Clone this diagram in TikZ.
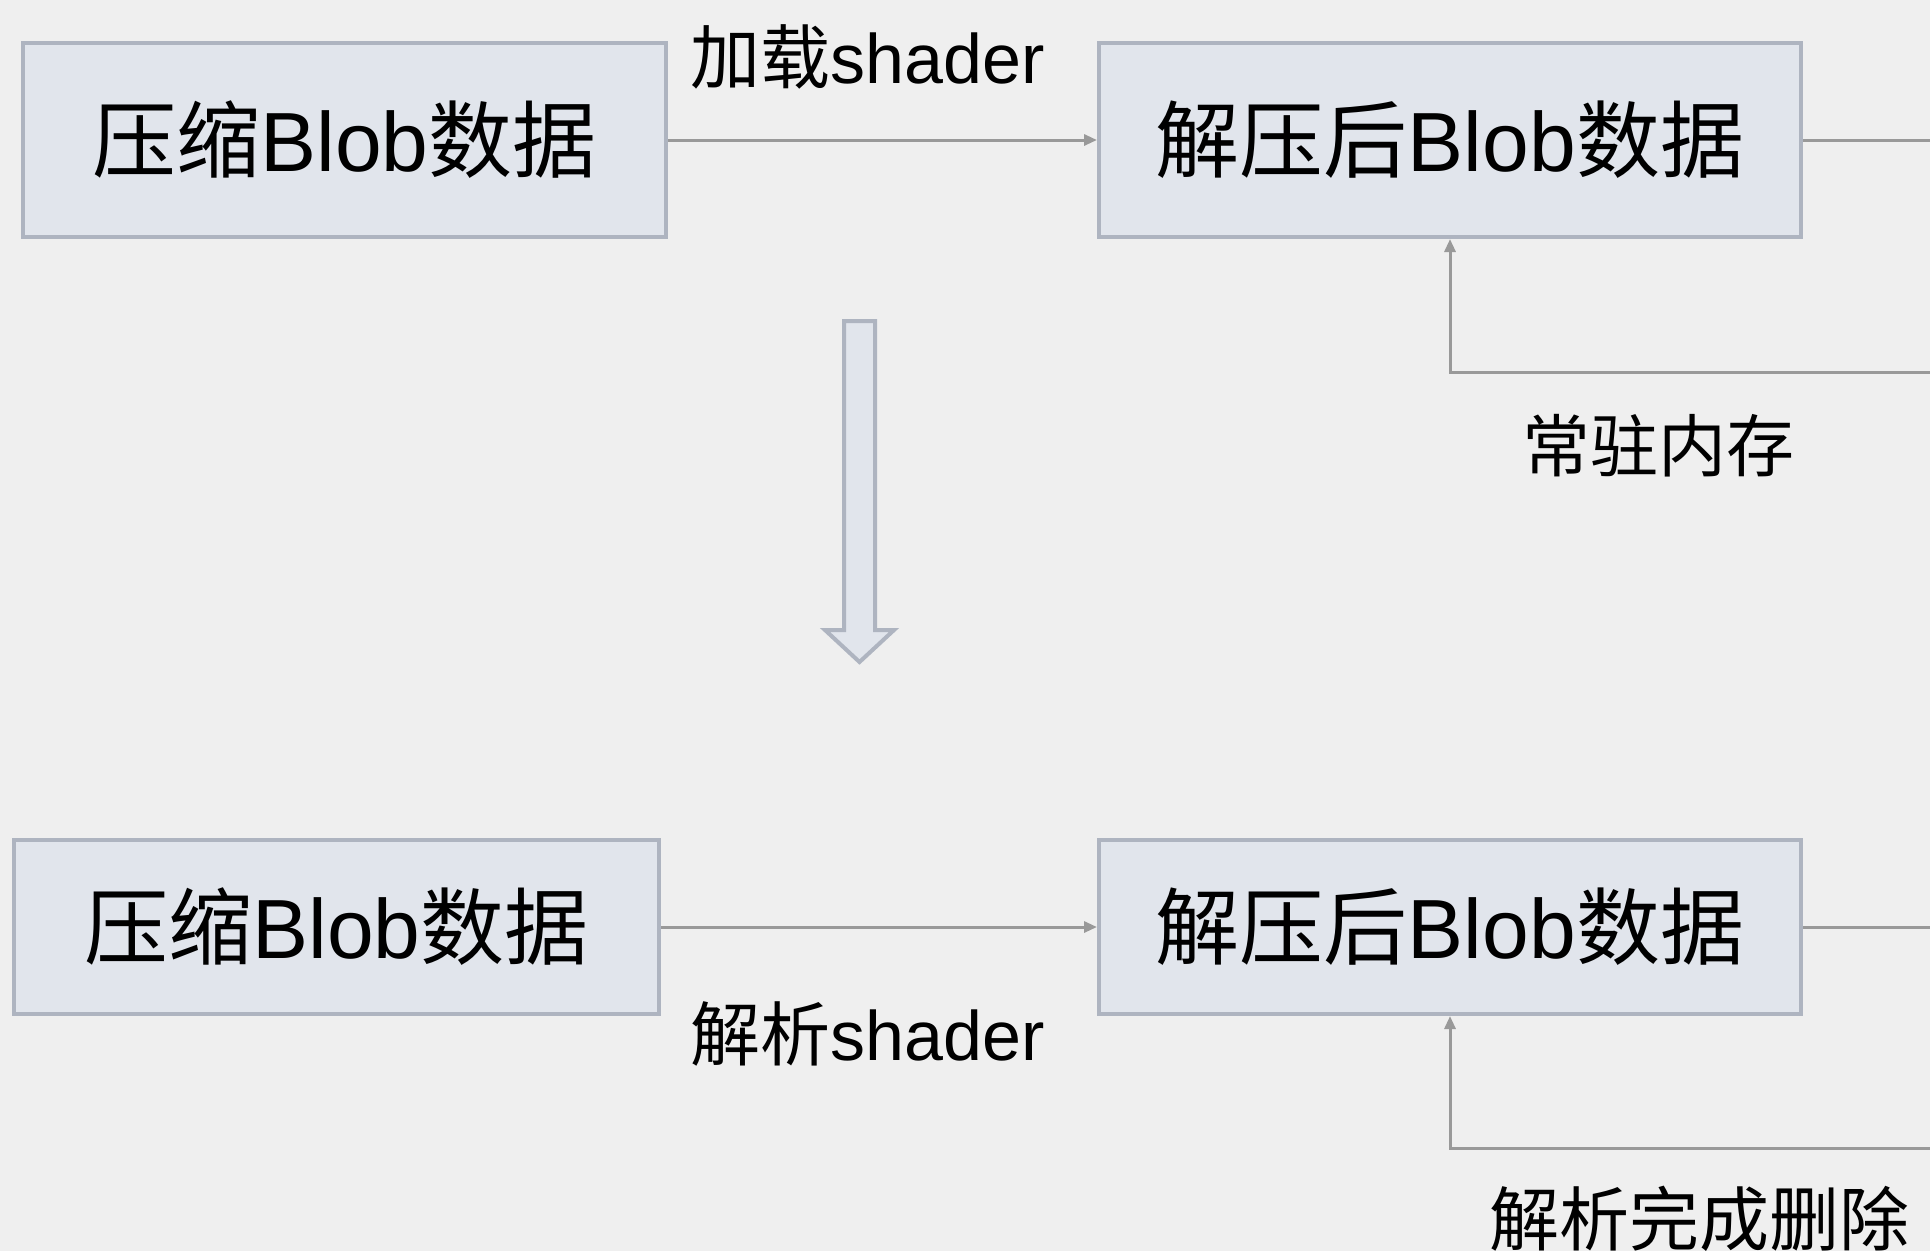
\documentclass[tikz,border=0pt]{standalone}
\usepackage{fontspec}
\setmainfont{Liberation Sans}
\newfontfamily\cjk{Noto Sans CJK SC}
\usetikzlibrary{arrows.meta}
\definecolor{bgc}{HTML}{EFEFEF}
\definecolor{boxfill}{HTML}{E1E5EC}
\definecolor{boxline}{HTML}{AEB4C0}
\definecolor{conn}{HTML}{999999}
\tikzset{
  blob/.style={draw=boxline, fill=boxfill, line width=4pt, inner sep=0pt,
    font=\fontsize{84}{90}\selectfont},
  lbl/.style={inner sep=0pt, font=\fontsize{70}{76}\selectfont},
  conline/.style={draw=conn, line width=3pt},
  conarrow/.style={conline, -{Triangle[length=13pt,width=11pt]}},
}
\begin{document}
\begin{tikzpicture}[x=1pt,y=-1pt]
\useasboundingbox[fill=bgc] (0,0) rectangle (1930,1251);
% top row
\node[blob, minimum width=643pt, minimum height=194pt] (tl) at (344.5,140) {{\cjk 压缩}Blob{\cjk 数据}};
\node[blob, minimum width=702pt, minimum height=194pt] (tr) at (1450,140) {{\cjk 解压后}Blob{\cjk 数据}};
\coordinate (tre) at (1930,140);
\coordinate (tloop) at (1930,372);
\draw[conarrow] (tl.east) -- (tr.west);
\draw[conline] (tr.east) -- (tre);
\draw[conarrow] (tloop) -| (tr.south);
\node[lbl] (lt) at (868,57) {{\cjk 加载}shader};
\node[lbl, font=\fontsize{68}{74}\selectfont] (lm) at (1658,446) {\cjk 常驻内存};
% big down arrow
\draw[draw=boxline, fill=boxfill, line width=4pt, line join=miter]
  (844,321) -- (875,321) -- (875,630) -- (894,630) -- (859.5,662) -- (825,630) -- (844,630) -- cycle;
% bottom row
\node[blob, minimum width=645pt, minimum height=174pt] (bl) at (336.5,927) {{\cjk 压缩}Blob{\cjk 数据}};
\node[blob, minimum width=702pt, minimum height=174pt] (br) at (1450,927) {{\cjk 解压后}Blob{\cjk 数据}};
\coordinate (bre) at (1930,927);
\coordinate (bloop) at (1930,1148);
\draw[conarrow] (bl.east) -- (br.west);
\draw[conline] (br.east) -- (bre);
\draw[conarrow] (bloop) -| (br.south);
\node[lbl] (lb) at (868,1034) {{\cjk 解析}shader};
\node[lbl] (lbm) at (1699,1219) {\cjk 解析完成删除};
\end{tikzpicture}
\end{document}
